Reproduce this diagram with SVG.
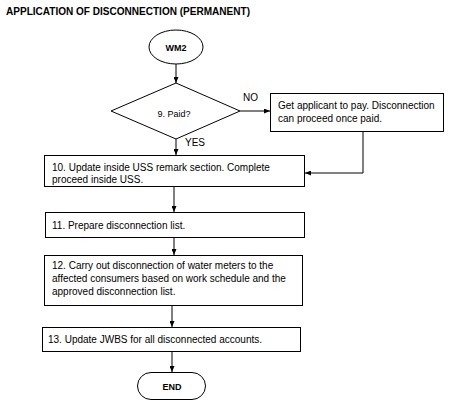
<svg xmlns="http://www.w3.org/2000/svg" width="461" height="416" viewBox="0 0 461 416">
<style>
.box{fill:#fff;stroke:#000;stroke-width:1}
.t{font-family:"Liberation Sans",Arial,sans-serif;font-size:10px;fill:#000}
.b{font-family:"Liberation Sans",Arial,sans-serif;font-weight:bold;fill:#000}
.c{stroke:#000;stroke-width:1;fill:none}
</style>
<defs>
<marker id="ah" viewBox="0 0 10 10" refX="10" refY="5" markerWidth="6" markerHeight="5" orient="auto" markerUnits="userSpaceOnUse" preserveAspectRatio="none">
<path d="M0,0 L10,5 L0,10 z" fill="#000"/>
</marker>
</defs>
<rect width="461" height="416" fill="#fff"/>
<text class="b" x="6" y="15" font-size="11.5" textLength="244" lengthAdjust="spacingAndGlyphs">APPLICATION OF DISCONNECTION (PERMANENT)</text>

<g id="connectors">
<line class="c" x1="176" y1="64" x2="176" y2="83" marker-end="url(#ah)"/>
<line class="c" x1="240" y1="111" x2="270" y2="111" marker-end="url(#ah)"/>
<line class="c" x1="176" y1="139" x2="176" y2="155" marker-end="url(#ah)"/>
<polyline class="c" points="363,131 363,173 305,173" marker-end="url(#ah)"/>
<line class="c" x1="174" y1="186" x2="174" y2="212" marker-end="url(#ah)"/>
<line class="c" x1="174" y1="237" x2="174" y2="255" marker-end="url(#ah)"/>
<line class="c" x1="172" y1="305" x2="172" y2="327" marker-end="url(#ah)"/>
<line class="c" x1="172" y1="352" x2="172" y2="372" marker-end="url(#ah)"/>
<text class="t" x="243" y="101">NO</text>
<text class="t" x="185" y="146">YES</text>
</g>

<g id="wm2">
<ellipse class="box" cx="176" cy="47" rx="27" ry="17"/>
<text class="b" x="176" y="50.5" font-size="9" text-anchor="middle">WM2</text>
</g>

<g id="paid">
<polygon class="box" points="176,83 240,111 176,139 111,111"/>
<text class="t" x="174" y="117" style="font-size:9px" text-anchor="middle">9. Paid?</text>
</g>

<g id="getpay">
<rect class="box" x="270.5" y="93.5" width="173" height="38"/>
<text class="t" x="278" y="109">Get applicant to pay. Disconnection</text>
<text class="t" x="278" y="122">can proceed once paid.</text>
</g>

<g id="step10">
<rect class="box" x="44.5" y="155.5" width="260" height="31"/>
<text class="t" x="52" y="170.5">10. Update inside USS remark section. Complete</text>
<text class="t" x="52" y="183">proceed inside USS.</text>
</g>

<g id="step11">
<rect class="box" x="45.5" y="212.5" width="259" height="25"/>
<text class="t" x="52" y="229">11. Prepare disconnection list.</text>
</g>

<g id="step12">
<rect class="box" x="44.5" y="255.5" width="258" height="50"/>
<text class="t" x="52" y="269">12. Carry out disconnection of water meters to the</text>
<text class="t" x="52" y="282">affected consumers based on work schedule and the</text>
<text class="t" x="52" y="295">approved disconnection list.</text>
</g>

<g id="step13">
<rect class="box" x="42.5" y="327.5" width="258" height="24"/>
<text class="t" x="48" y="343">13. Update JWBS for all disconnected accounts.</text>
</g>

<g id="end">
<rect class="box" x="137.5" y="372.5" width="68" height="27" rx="13.5" ry="13.5"/>
<text class="b" x="172" y="390" font-size="9" text-anchor="middle">END</text>
</g>
</svg>
